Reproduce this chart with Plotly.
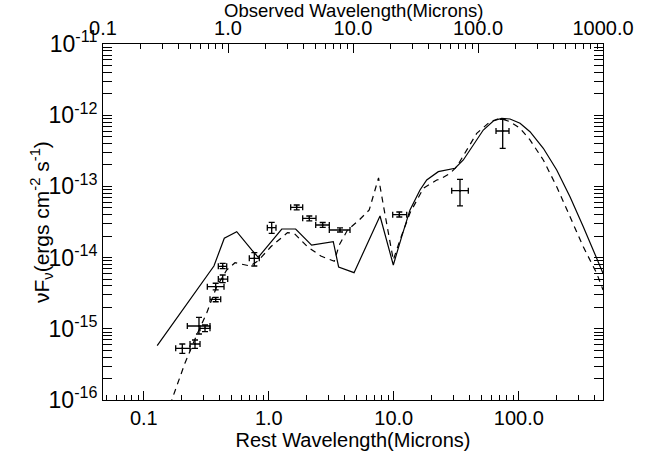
import math
import plotly.graph_objects as go

# (1+z): observed wavelength = rest wavelength * ONE_PLUS_Z
ONE_PLUS_Z = 2.12

# Model 1 (solid line): rest wavelength (micron), nuFnu (erg cm^-2 s^-1)
solid_wav = [0.128, 0.364, 0.4405, 0.554, 0.730, 0.824, 1.27, 1.64, 2.20, 3.28, 3.62,
             4.81, 7.76, 9.91, 11.57, 13.48, 16.21, 18.34, 22.7, 30.9, 36.0, 43.3,
             52.0, 62.5, 73.0, 85.1, 102.3, 122.9, 157.1, 201.1, 256.8, 328.1, 420.1, 471.9]
solid_flux = [5.79e-16, 7.62e-15, 1.87e-14, 2.31e-14, 1.28e-14, 1.01e-14, 2.52e-14, 2.52e-14,
              1.50e-14, 1.67e-14, 7.38e-15, 6.14e-15, 3.84e-14, 7.87e-15, 1.97e-14, 4.67e-14,
              8.90e-14, 1.23e-13, 1.61e-13, 1.80e-13, 2.35e-13, 3.81e-13, 6.19e-13, 8.29e-13,
              9.05e-13, 8.84e-13, 7.69e-13, 5.87e-13, 3.43e-13, 1.70e-13, 7.17e-14, 2.72e-14,
              9.78e-15, 6.02e-15]

# Model 2 (dashed line)
dash_wav = [0.162, 0.2137, 0.265, 0.3187, 0.383, 0.4605, 0.5366, 0.7075, 0.824, 1.038, 1.411,
            1.597, 2.04, 2.61, 3.34, 3.66, 4.26, 5.29, 6.36, 7.55, 8.38, 9.91, 11.21, 13.48,
            17.22, 22.05, 23.4, 28.2, 31.9, 38.3, 46.1, 58.9, 70.7, 85.1, 102.3, 122.9, 157.1,
            201.1, 256.8, 328.1, 420.1, 471.9]
dash_flux = [8.5e-17, 3.31e-16, 8.18e-16, 1.67e-15, 3.90e-15, 6.70e-15, 8.48e-15, 7.62e-15,
             9.05e-15, 1.42e-14, 2.24e-14, 2.19e-14, 1.42e-14, 1.05e-14, 8.9e-15, 1.50e-14,
             2.44e-14, 3.37e-14, 4.67e-14, 1.32e-13, 4.67e-14, 9.25e-15, 1.77e-14, 4.23e-14,
             9.40e-14, 1.23e-13, 1.26e-13, 1.53e-13, 1.89e-13, 3.25e-13, 5.57e-13, 8.1e-13,
             9.05e-13, 8.1e-13, 6.55e-13, 4.49e-13, 2.35e-13, 9.9e-14, 3.75e-14, 1.42e-14,
             6.02e-15, 3.51e-15]

# Photometry with error ranges
obs_wav = [0.2033, 0.2569, 0.2764, 0.3088, 0.376, 0.376, 0.4278, 0.4278, 0.766, 1.055,
           1.672, 2.109, 2.70, 3.713, 11.07, 33.85, 74.34]
obs_wav_lo = [0.180, 0.2343, 0.2229, 0.2817, 0.3386, 0.3223, 0.3946, 0.3946, 0.6985, 0.973,
              1.497, 1.867, 2.373, 3.049, 9.80, 29.06, 65.73]
obs_wav_hi = [0.2343, 0.2817, 0.3386, 0.3386, 0.4124, 0.4383, 0.4691, 0.4605, 0.8395, 1.142,
              1.867, 2.386, 3.049, 4.464, 12.69, 39.46, 83.5]
obs_flux = [5.32e-16, 6.12e-16, 1.094e-15, 1.016e-15, 2.59e-15, 3.90e-15, 5.00e-15, 7.55e-15,
            9.77e-15, 2.63e-14, 5.08e-14, 3.56e-14, 2.87e-14, 2.44e-14, 4.01e-14, 8.71e-14, 6.00e-13]
obs_flux_lo = [4.53e-16, 5.32e-16, 8.45e-16, 9.1e-16, 2.40e-15, 3.51e-15, 4.44e-15, 6.98e-15,
               7.62e-15, 2.19e-14, 4.67e-14, 3.27e-14, 2.65e-14, 2.29e-14, 3.72e-14, 5.31e-14, 3.43e-13]
obs_flux_hi = [6.12e-16, 6.96e-16, 1.449e-15, 1.13e-15, 2.77e-15, 4.36e-15, 5.70e-15, 8.32e-15,
               1.172e-14, 3.13e-14, 5.48e-14, 3.84e-14, 3.11e-14, 2.61e-14, 4.37e-14, 1.259e-13, 8.76e-13]

rest_ticks = [0.1, 1, 10, 100]
rest_ticktext = ['0.1', '1.0', '10.0', '100.0']
obs_ticks = [0.1, 1, 10, 100, 1000]
obs_ticktext = ['0.1', '1.0', '10.0', '100.0', '1000.0']
flux_ticks = [1e-16, 1e-15, 1e-14, 1e-13, 1e-12, 1e-11]
flux_ticktext = ['10<sup>-16</sup>', '10<sup>-15</sup>', '10<sup>-14</sup>',
                 '10<sup>-13</sup>', '10<sup>-12</sup>', '10<sup>-11</sup>']

obs_range = [-1 - 1e-6, 3 + 1e-6]
rest_range = [r - math.log10(ONE_PLUS_Z) for r in obs_range]


def minor_vals(lo_exp, hi_exp):
    return [k * 10.0 ** e for e in range(lo_exp, hi_exp + 1) for k in range(2, 10)]


FONT = 'Liberation Sans, Arial, Helvetica, sans-serif'

fig = go.Figure()
fig.add_trace(go.Scatter(x=solid_wav, y=solid_flux, mode='lines',
                         line=dict(color='black', width=1.2), hoverinfo='skip'))
fig.add_trace(go.Scatter(x=dash_wav, y=dash_flux, mode='lines',
                         line=dict(color='black', width=1.2, dash='6px,5px'), hoverinfo='skip'))
fig.add_trace(go.Scatter(
    x=obs_wav, y=obs_flux, mode='markers',
    marker=dict(color='black', size=2),
    error_x=dict(type='data', symmetric=False,
                 array=[h - c for h, c in zip(obs_wav_hi, obs_wav)],
                 arrayminus=[c - l for c, l in zip(obs_wav, obs_wav_lo)],
                 color='black', thickness=1.3, width=3),
    error_y=dict(type='data', symmetric=False,
                 array=[h - c for h, c in zip(obs_flux_hi, obs_flux)],
                 arrayminus=[c - l for c, l in zip(obs_flux, obs_flux_lo)],
                 color='black', thickness=1.3, width=3),
    hoverinfo='skip'))
# carrier for the observed-wavelength (top) axis
fig.add_trace(go.Scatter(x=[w * ONE_PLUS_Z for w in obs_wav], y=obs_flux, xaxis='x2',
                         mode='markers', marker=dict(opacity=0), hoverinfo='skip'))

axis_common = dict(showgrid=False, zeroline=False, showline=True, linecolor='black',
                   linewidth=1, ticks='inside', tickcolor='black', tickwidth=1, ticklen=9,
                   automargin=False)
xtickfont = dict(family=FONT, size=20, color='black')

fig.update_layout(
    width=651, height=453,
    margin=dict(l=103, r=48, t=44, b=53),
    paper_bgcolor='white', plot_bgcolor='white',
    showlegend=False,
    font=dict(family=FONT, size=20, color='black'),
    xaxis=dict(type='log', range=rest_range, tickmode='array', tickvals=rest_ticks,
               ticktext=rest_ticktext, mirror=True, tickfont=xtickfont, ticklabelstandoff=0,
               minor=dict(tickmode='array', tickvals=minor_vals(-2, 2), ticks='inside',
                          ticklen=5, tickcolor='black', showgrid=False),
               title=dict(text='Rest Wavelength(Microns)', standoff=3,
                          font=dict(family=FONT, size=20)),
               **axis_common),
    xaxis2=dict(type='log', range=obs_range, overlaying='x', side='top', anchor='y',
                tickmode='array', tickvals=obs_ticks, ticktext=obs_ticktext,
                tickfont=xtickfont, ticklabelstandoff=0,
                minor=dict(tickmode='array', tickvals=minor_vals(-1, 2), ticks='inside',
                           ticklen=5, tickcolor='black', showgrid=False),
                **axis_common),
    yaxis=dict(type='log', range=[-16, -11], tickmode='array', tickvals=flux_ticks,
               ticktext=flux_ticktext, mirror='allticks',
               tickfont=dict(family=FONT, size=23, color='black'),
               minor=dict(tickmode='array', tickvals=minor_vals(-16, -12), ticks='inside',
                          ticklen=5, tickcolor='black', showgrid=False),
               **axis_common),
    annotations=[
        dict(text='Observed Wavelength(Microns)', xref='paper', yref='paper',
             x=0.5, y=1 + (44 - 11) / 356, xanchor='center', yanchor='middle',
             showarrow=False, font=dict(family=FONT, size=18.5, color='black')),
        dict(text='νF<sub>ν</sub>(ergs cm<sup>-2</sup> s<sup>-1</sup>)', xref='paper', yref='paper',
             x=(41 - 103) / 500, y=0.5, xanchor='center', yanchor='middle', textangle=-90,
             showarrow=False, font=dict(family=FONT, size=21, color='black')),
    ],
)

fig.write_html('out.html')
